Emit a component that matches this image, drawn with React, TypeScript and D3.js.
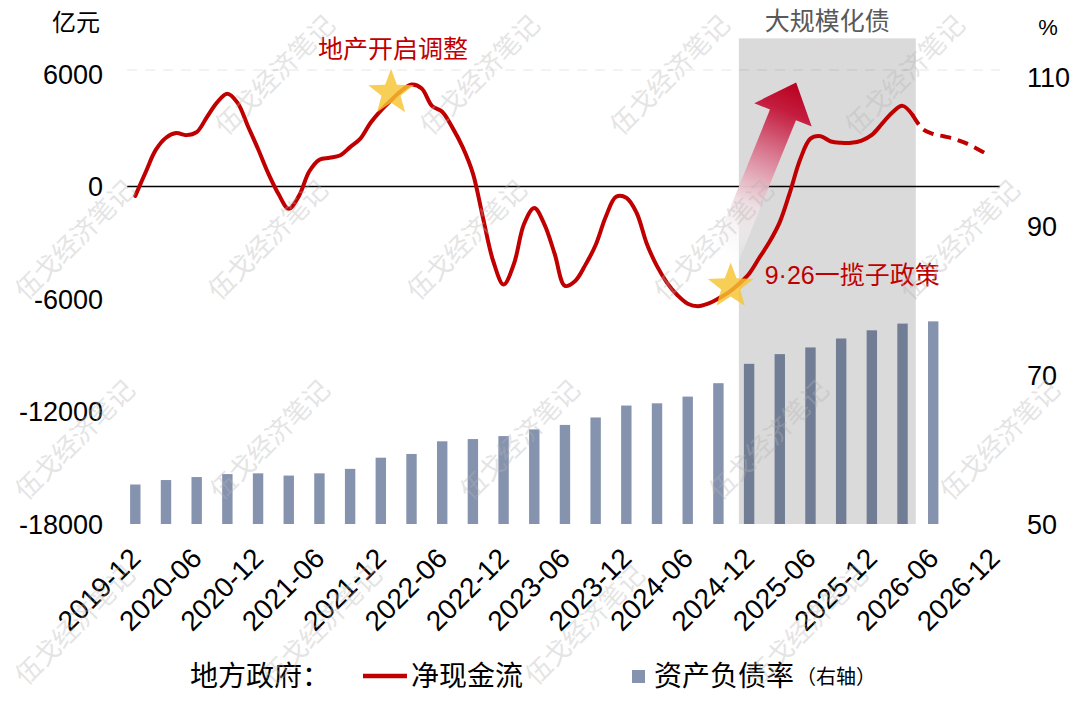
import React, { useEffect, useRef } from 'react';
import * as d3 from 'd3';

// quarterly debt ratio bars (右轴, %)
const barDates = [
  '2019-12', '2020-03', '2020-06', '2020-09', '2020-12', '2021-03', '2021-06', '2021-09', '2021-12',
  '2022-03', '2022-06', '2022-09', '2022-12', '2023-03', '2023-06', '2023-09', '2023-12',
  '2024-03', '2024-06', '2024-09', '2024-12', '2025-03', '2025-06', '2025-09', '2025-12',
  '2026-03', '2026-06',
];
const debtRatio = [
  55.3, 55.9, 56.3, 56.7, 56.8, 56.5, 56.8, 57.4, 58.9,
  59.4, 61.1, 61.4, 61.8, 62.7, 63.3, 64.3, 65.9,
  66.2, 67.1, 68.9, 71.5, 72.8, 73.7, 74.9, 76.0,
  76.9, 77.2,
];

// monthly net cash flow (亿元), first value = 2019-12
const cashStart = '2019-12';
const netCashFlow = [
  -500, 750, 1950, 2600, 2850, 2740, 2900, 3700, 4490, 4950, 4460, 3230,
  2000, 700, -400, -1190, -500, 800, 1430, 1530, 1650, 2100, 2550, 3400,
  4050, 4600, 5100, 5440, 5230, 4300, 3990, 3140, 2100, 700, -1700, -4000,
  -5230, -4150, -2000, -1150, -2030, -3600, -5300, -5040, -4180, -3120, -1600, -550,
  -600, -1400, -3050, -4250, -5150, -5800, -6250, -6380, -6250, -5980, -5650, -5200,
  -4650, -3800, -2950, -1900, -300, 1450, 2550, 2680, 2400, 2330, 2330, 2450,
  2750, 3350, 3950, 4300, 3800, 3050, 2800, 2680, 2550, 2350, 2100, 1800,
];
const forecastFrom = '2026-04'; // dashed after this month

const xTickLabels = [
  '2019-12', '2020-06', '2020-12', '2021-06', '2021-12', '2022-06', '2022-12', '2023-06',
  '2023-12', '2024-06', '2024-12', '2025-06', '2025-12', '2026-06', '2026-12',
];
const leftTicks = [6000, 0, -6000, -12000, -18000];
const rightTicks = [110, 90, 70, 50];

const reliefWindow = ['2024-11', '2026-04'];

const monthIndex = (s: string) => {
  const [y, m] = s.split('-').map(Number);
  const [y0, m0] = cashStart.split('-').map(Number);
  return (y - y0) * 12 + (m - m0);
};

const starPoints = (cx: number, cy: number, R: number, r: number) => {
  const pts: [number, number][] = [];
  for (let i = 0; i < 10; i++) {
    const a = -Math.PI / 2 + (i * Math.PI) / 5;
    const rad = i % 2 === 0 ? R : r;
    pts.push([cx + rad * Math.cos(a), cy + rad * Math.sin(a)]);
  }
  return pts.map(p => p.join(',')).join(' ');
};

export default function App() {
  const svgRef = useRef<SVGSVGElement>(null);

  useEffect(() => {
    if (!svgRef.current) return;
    const svg = d3.select(svgRef.current);
    svg.selectAll('*').remove();

    const cjk = '"Noto Sans CJK SC", "Noto Sans", sans-serif';
    const num = '"Liberation Sans", Arial, sans-serif';
    const red = '#c00000';

    const x = d3.scaleLinear().domain([0, 84]).range([135.3, 994.6]);
    const yL = d3.scaleLinear().domain([-18000, 6000]).range([524, 74]);
    const yR = d3.scaleLinear().domain([50, 110]).range([524, 77]);

    // faint grid line near top tick
    svg.append('line')
      .attr('x1', x(-0.8)).attr('x2', x(84.5))
      .attr('y1', yL(6000) - 4).attr('y2', yL(6000) - 4)
      .attr('stroke', '#e6e6e6').attr('stroke-dasharray', '10,8');

    // bars
    svg.append('g').selectAll('rect')
      .data(debtRatio)
      .join('rect')
      .attr('x', (_, i) => x(monthIndex(barDates[i])) - 5.2)
      .attr('width', 10.4)
      .attr('y', d => yR(d))
      .attr('height', d => yR(50) - yR(d))
      .attr('fill', '#8593ae');

    // 大规模化债 shaded window
    const wx0 = x(monthIndex(reliefWindow[0]));
    const wx1 = x(monthIndex(reliefWindow[1]) + 0.3);
    svg.append('rect')
      .attr('x', wx0)
      .attr('width', wx1 - wx0)
      .attr('y', yL(7900))
      .attr('height', yL(-18000) - yL(7900))
      .attr('fill', '#000').attr('opacity', 0.145);

    // zero line
    svg.append('line')
      .attr('x1', x(-0.8)).attr('x2', x(84.5))
      .attr('y1', yL(0)).attr('y2', yL(0))
      .attr('stroke', '#000').attr('stroke-width', 1.4);

    // arrow
    const tail: [number, number] = [x(57.2), yL(-4400)];
    const tip: [number, number] = [x(64.6), yL(5550)];
    const L = Math.hypot(tip[0] - tail[0], tip[1] - tail[1]);
    const ang = (Math.atan2(tip[1] - tail[1], tip[0] - tail[0]) * 180) / Math.PI;
    const defs = svg.append('defs');
    const grad = defs.append('linearGradient')
      .attr('id', 'arrowGrad')
      .attr('gradientUnits', 'userSpaceOnUse')
      .attr('x1', 0).attr('y1', 0).attr('x2', L).attr('y2', 0);
    [
      [0, '#ffffff', 0],
      [0.18, '#f6f2f3', 0.5],
      [0.35, '#efdfe3', 0.95],
      [0.6, '#db8298', 1],
      [0.85, '#c41c3e', 1],
      [1, '#b8001e', 1],
    ].forEach(([o, c, op]) => {
      grad.append('stop').attr('offset', o as number).attr('stop-color', c as string).attr('stop-opacity', op as number);
    });
    const sw = 14, hw = 31, hl = 35;
    svg.append('g')
      .attr('transform', `translate(${tail[0]},${tail[1]}) rotate(${ang})`)
      .append('polygon')
      .attr('points', [[0, -sw], [L - hl, -sw], [L - hl, -hw], [L, 0], [L - hl, hw], [L - hl, sw], [0, sw]].map(p => p.join(',')).join(' '))
      .attr('fill', 'url(#arrowGrad)');

    // net cash flow line
    const pts = netCashFlow.map((v, i) => ({ m: i, v }));
    const split = monthIndex(forecastFrom);
    const line = d3.line<{ m: number; v: number }>()
      .x(d => x(d.m))
      .y(d => yL(d.v))
      .curve(d3.curveCatmullRom.alpha(0.5));
    svg.append('path')
      .attr('d', line(pts.slice(0, split + 1)))
      .attr('fill', 'none').attr('stroke', red).attr('stroke-width', 4)
      .attr('stroke-linejoin', 'round').attr('stroke-linecap', 'round');
    svg.append('path')
      .attr('d', line(pts.slice(split)))
      .attr('fill', 'none').attr('stroke', red).attr('stroke-width', 4)
      .attr('stroke-dasharray', '11,7');

    // stars
    const stars = [
      { m: 25, v: 5000 },
      { m: 58.2, v: -5330 },
    ];
    svg.append('g').selectAll('polygon')
      .data(stars)
      .join('polygon')
      .attr('points', d => starPoints(x(d.m), yL(d.v), 24, 10))
      .attr('fill', '#f7c531').attr('opacity', 0.82);

    // annotations
    svg.append('text')
      .attr('x', x(25.2)).attr('y', 58)
      .attr('text-anchor', 'middle')
      .attr('font-family', cjk).attr('font-size', 25).attr('fill', red)
      .text('地产开启调整');
    svg.append('text')
      .attr('x', (wx0 + wx1) / 2)
      .attr('y', 30)
      .attr('text-anchor', 'middle')
      .attr('font-family', cjk).attr('font-size', 25).attr('fill', '#595959')
      .text('大规模化债');
    const pol = svg.append('text')
      .attr('x', x(58.2) + 34).attr('y', 284)
      .attr('font-family', cjk).attr('font-size', 25).attr('fill', red);
    pol.append('tspan').attr('font-family', num).text('9·26');
    pol.append('tspan').text('一揽子政策');

    // axis units
    svg.append('text').attr('x', 76).attr('y', 31).attr('text-anchor', 'middle')
      .attr('font-family', cjk).attr('font-size', 24).attr('fill', '#000').text('亿元');
    svg.append('text').attr('x', 1048).attr('y', 35).attr('text-anchor', 'middle')
      .attr('font-family', num).attr('font-size', 22).attr('fill', '#000').text('%');

    // left ticks
    svg.append('g').selectAll('text')
      .data(leftTicks)
      .join('text')
      .attr('x', 103).attr('y', d => yL(d)).attr('dy', '0.36em')
      .attr('text-anchor', 'end')
      .attr('font-family', num).attr('font-size', 27).attr('fill', '#000')
      .text(d => (d < 0 ? `-${Math.abs(d)}` : `${d}`));

    // right ticks
    svg.append('g').selectAll('text')
      .data(rightTicks)
      .join('text')
      .attr('x', 1027).attr('y', d => yR(d)).attr('dy', '0.36em')
      .attr('font-family', num).attr('font-size', 27).attr('fill', '#000')
      .text(d => `${d}`);

    // x tick labels
    svg.append('g').selectAll('text')
      .data(xTickLabels)
      .join('text')
      .attr('transform', d => `translate(${x(monthIndex(d))},553) rotate(-45)`)
      .attr('dy', '0.35em')
      .attr('text-anchor', 'end')
      .attr('font-family', num).attr('font-size', 28).attr('fill', '#000')
      .text(d => d);

    // legend
    const lg = svg.append('g').attr('font-family', cjk).attr('font-size', 28).attr('fill', '#000');
    lg.append('text').attr('x', 190).attr('y', 686).text('地方政府：');
    lg.append('line').attr('x1', 363).attr('x2', 407).attr('y1', 676).attr('y2', 676)
      .attr('stroke', red).attr('stroke-width', 4.5);
    lg.append('text').attr('x', 411).attr('y', 686).text('净现金流');
    lg.append('rect').attr('x', 632).attr('y', 670).attr('width', 13).attr('height', 13).attr('fill', '#8593ae');
    lg.append('text').attr('x', 654).attr('y', 686).text('资产负债率');
    lg.append('text').attr('x', 796).attr('y', 684).attr('font-size', 20).text('（右轴）');

    // watermark (kept inside the canvas)
    const wmRows = [
      { y: 75, xs: [275, 480, 670, 905] },
      { y: 240, xs: [75, 268, 467, 714, 960] },
      { y: 440, xs: [75, 270, 520, 769, 1000] },
      { y: 625, xs: [75, 322, 585, 808] },
    ];
    const wm = svg.append('g').attr('pointer-events', 'none');
    wmRows.forEach(r => r.xs.forEach(cx => {
      wm.append('text')
        .attr('transform', `translate(${cx},${r.y}) rotate(-45)`)
        .attr('text-anchor', 'middle').attr('dy', '0.35em')
        .attr('font-family', cjk).attr('font-size', 26)
        .attr('fill', '#b4b4b4').attr('opacity', 0.35)
        .text('伍戈经济笔记');
    }));
  }, []);

  return (
    <svg
      ref={svgRef}
      width={1079}
      height={702}
      style={{ position: 'absolute', left: 0, top: 0, background: '#fff' }}
    />
  );
}
